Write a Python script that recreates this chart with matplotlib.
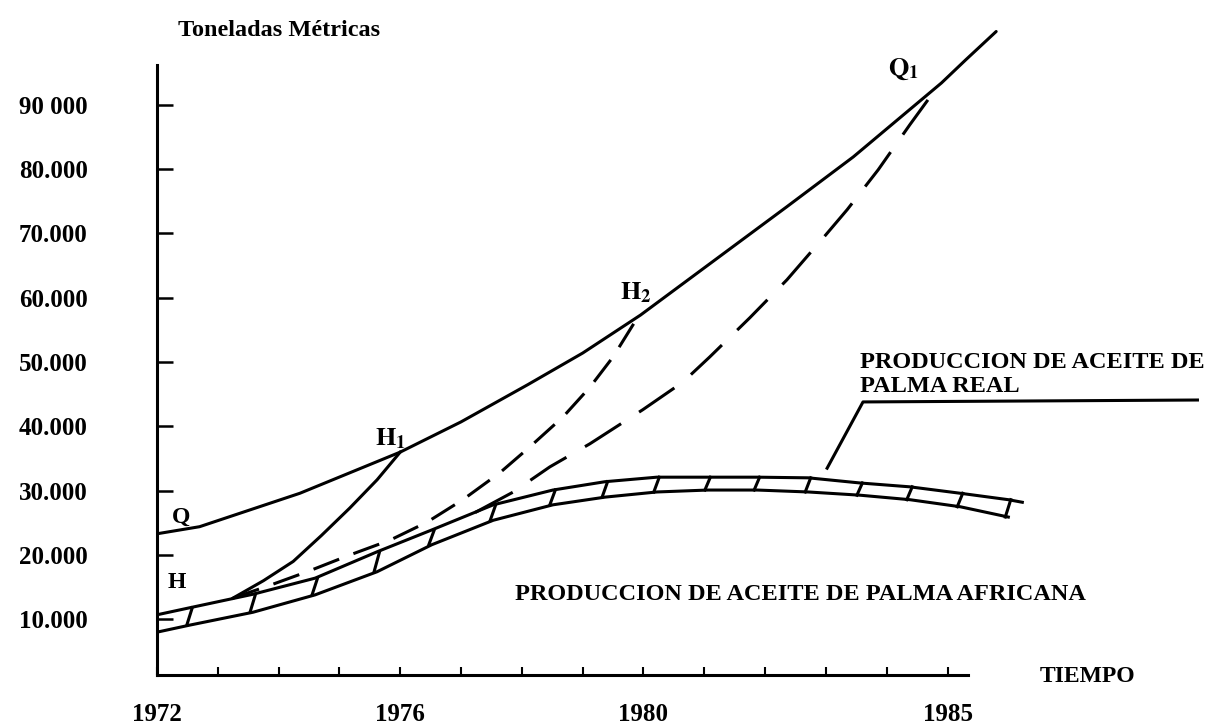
import matplotlib
matplotlib.use('Agg')
import numpy as np
import matplotlib.pyplot as plt
from matplotlib.ticker import FixedLocator, FixedFormatter

plt.rcParams['font.family'] = ['Liberation Serif', 'DejaVu Serif']
plt.rcParams['font.weight'] = 'bold'
plt.rcParams['mathtext.fontset'] = 'stix'

# curva Q -> Q1 (demanda)
q_years = [1972.0, 1972.7, 1974.35, 1976.0, 1977.0, 1978.1, 1979.0, 1979.95,
           1981.25, 1982.35, 1983.45, 1984.9, 1985.3, 1985.8]
q_vals = [23300, 24400, 29600, 36000, 40700, 46500, 51400, 57300,
          66400, 74100, 81900, 93400, 97000, 101400]

# H -> H1 (solida)
h1_years = [1973.25, 1973.75, 1974.24, 1974.7, 1975.17, 1975.62, 1976.0]
h1_vals = [13300, 16000, 19000, 23000, 27300, 31700, 36000]

# H -> H2 (trazos)
h2_years = [1973.25, 1973.86, 1974.47, 1975.17, 1975.83, 1976.44, 1977.03,
            1977.64, 1978.13, 1978.68, 1979.12, 1979.5, 1979.94]
h2_vals = [13300, 15300, 17400, 20000, 22300, 25100, 28600,
           32800, 36800, 41500, 46100, 50800, 57500]

# banda -> Q1 (trazos)
q1_years = [1977.23, 1977.86, 1978.46, 1979.12, 1979.99, 1980.65, 1981.09,
            1981.75, 1982.36, 1983.0, 1983.35, 1983.86, 1984.38, 1984.88]
q1_vals = [26600, 29800, 33700, 37300, 42600, 46900, 50800,
           56900, 62800, 69800, 73700, 79900, 86900, 93400]

# banda de produccion de palma africana
band_years = [1972.0, 1972.54, 1973.58, 1974.6, 1975.62, 1976.52, 1977.53, 1978.51,
              1979.37, 1980.22, 1981.06, 1981.87, 1982.71, 1983.56, 1984.38,
              1985.21, 1986.0]
band_top = [10700, 11800, 13900, 16400, 20500, 23900, 27800, 30100,
            31400, 32100, 32100, 32100, 32000, 31200, 30600, 29600, 28600]
band_bot = [8000, 9100, 11100, 13800, 17400, 21600, 25400, 27800,
            29000, 29800, 30100, 30100, 29800, 29300, 28600, 27500, 25900]
band_top_end = (1986.23, 28200)

# linea indicadora palma real
lead_years = [1983.02, 1983.61, 1989.11]
lead_vals = [33500, 43800, 44100]

y_ticks = [10000, 20000, 30000, 40000, 50000, 60000, 70000, 80000, 90000]
y_labels = ['10.000', '20.000', '30.000', '40.000', '50.000',
            '60.000', '70.000', '80.000', '90 000']
x_ticks = list(range(1972, 1986))
x_labels = ['1972', '', '', '', '1976', '', '', '', '1980', '', '', '', '', '1985']

fig = plt.figure(figsize=(12.09, 7.25), dpi=100)
ax = fig.add_axes([157 / 1209, 50 / 725, 1052 / 1209, 675 / 725])
ax.set_xlim(1972, 1989.3)
ax.set_ylim(1340, 106300)

lw = 2.2
ax.plot(q_years, q_vals, color='k', lw=lw, solid_capstyle='round')
ax.plot(h1_years, h1_vals, color='k', lw=lw)
ax.plot(h2_years, h2_vals, color='k', lw=lw, linestyle=(0, (9, 5)))
ax.plot(q1_years, q1_vals, color='k', lw=lw, linestyle=(0, (14, 7)))

ax.plot(band_years + [band_top_end[0]], band_top + [band_top_end[1]], color='k', lw=lw)
ax.plot(band_years, band_bot, color='k', lw=lw)
for x, t, b in zip(band_years[1:], band_top[1:], band_bot[1:]):
    ax.plot([x - 0.05, x + 0.04], [b, t], color='k', lw=lw)

ax.plot(lead_years, lead_vals, color='k', lw=lw, clip_on=False)

# etiquetas de puntos
ax.text(1972.25, 25000, 'Q', fontsize=17)
ax.text(1972.18, 14870, 'H', fontsize=17)
ax.text(1975.59, 37100, r'$\mathbf{H}_\mathbf{1}$', fontsize=19)
ax.text(1979.62, 59700, r'$\mathbf{H}_\mathbf{2}$', fontsize=19)
ax.text(1984.02, 94700, r'$\mathbf{Q}_\mathbf{1}$', fontsize=19)

ax.text(1977.89, 13000, 'PRODUCCION DE ACEITE DE PALMA AFRICANA', fontsize=17.5)
ax.text(1983.56, 49100, 'PRODUCCION DE ACEITE DE', fontsize=17.5)
ax.text(1983.56, 45400, 'PALMA REAL', fontsize=17.5)

fig.text(178 / 1209, 1 - 31 / 725, 'Toneladas Métricas', fontsize=17.5, va='center')
fig.text(1040 / 1209, 1 - 677 / 725, 'TIEMPO', fontsize=17, va='center')

# ejes
for s in ['top', 'right']:
    ax.spines[s].set_visible(False)
ax.spines['left'].set_linewidth(2.2)
ax.spines['bottom'].set_linewidth(2.2)
ax.spines['left'].set_bounds(1340, 96200)
ax.spines['bottom'].set_bounds(1972, 1985.34)

ax.set_yticks(y_ticks)
ax.set_yticklabels(y_labels)
ax.xaxis.set_major_locator(FixedLocator(x_ticks))
ax.xaxis.set_major_formatter(FixedFormatter(x_labels))
ax.tick_params(axis='y', direction='in', length=11.5, width=1.8, pad=50, labelsize=18)
ax.tick_params(axis='x', direction='in', length=6, width=1.5, pad=20, labelsize=18)
for lab in ax.get_xticklabels() + ax.get_yticklabels():
    lab.set_fontweight('bold')

fig.savefig('out.png', dpi=100, facecolor='white')
